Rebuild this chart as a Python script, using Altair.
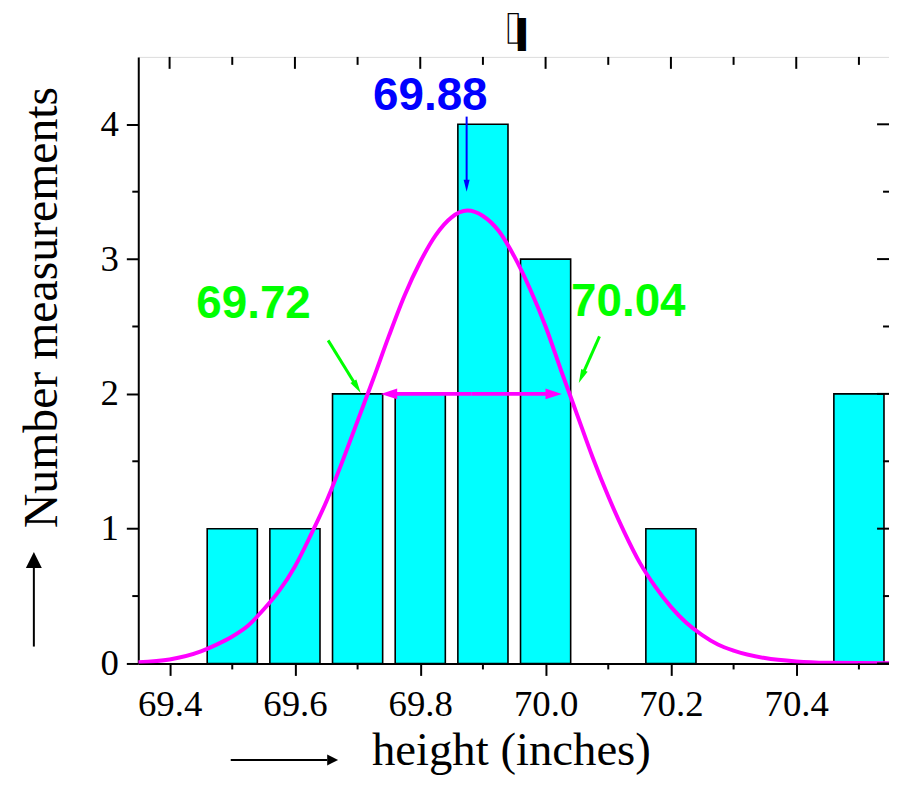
import math
import altair as alt
import pandas as pd

# ---------------- data ----------------
bar_centers = [69.5, 69.6, 69.7, 69.8, 69.9, 70.0, 70.2, 70.5]
bar_counts = [1, 1, 2, 2, 4, 3, 1, 2]
bar_width = 0.08

curve_x = [69.35, 69.40, 69.45, 69.475, 69.50, 69.525, 69.55, 69.575, 69.60,
           69.625, 69.65, 69.675, 69.70, 69.725, 69.75, 69.775, 69.80, 69.825,
           69.85, 69.875, 69.90, 69.925, 69.95, 69.975, 70.00, 70.025, 70.05,
           70.075, 70.10, 70.125, 70.15, 70.175, 70.20, 70.225, 70.25, 70.275,
           70.30, 70.35, 70.40, 70.45, 70.548]
curve_y = [0.01, 0.03, 0.09, 0.14, 0.20, 0.28, 0.40, 0.54, 0.72,
           0.95, 1.20, 1.49, 1.80, 2.11, 2.43, 2.73, 2.98, 3.18,
           3.31, 3.36, 3.32, 3.21, 3.02, 2.78, 2.50, 2.17, 1.85,
           1.53, 1.24, 0.98, 0.75, 0.57, 0.42, 0.30, 0.21, 0.14,
           0.095, 0.04, 0.015, 0.005, 0.001]

x_major = [69.4, 69.6, 69.8, 70.0, 70.2, 70.4]
x_minor = [69.5, 69.7, 69.9, 70.1, 70.3, 70.5]
y_major = [0, 1, 2, 3, 4]
y_minor = [0.5, 1.5, 2.5, 3.5]

mean_text = ["69.88"]
mean_pos = [69.816, 4.109]
low_text = ["69.72"]
low_pos = [69.534, 2.56]
high_text = ["70.04"]
high_pos = [70.132, 2.575]

# arrows (start, tip) in data units
blue_arrow = [(69.874, 4.057), (69.874, 3.50)]
green_left = [(69.653, 2.397), (69.705, 2.006)]
green_right = [(70.086, 2.427), (70.053, 2.080)]
fwhm_arrow = [69.737, 70.026, 2.0]

title_chars = ["▐", "▍"]
x_title = ["height (inches)"]
y_title = ["Number measurements"]

# ---------------- layout ----------------
W, H = 755, 610
XDOM = [69.35, 70.548]
YDOM = [0, 4.5]
PX = W / (XDOM[1] - XDOM[0])
PY = H / (YDOM[1] - YDOM[0])

xs = alt.Scale(domain=XDOM, nice=False, zero=False)
ys = alt.Scale(domain=YDOM, nice=False, zero=False)

SERIF = "Liberation Serif"
SANS = "Liberation Sans"

xaxis = alt.Axis(
    values=x_major, format=".1f", title=None, grid=False,
    tickSize=12, tickWidth=2, tickColor="black", domainColor="black",
    domainWidth=2, labelFont=SERIF, labelFontSize=37, labelColor="black",
    labelPadding=11, labelFlush=False, labelOverlap=False)
yaxis = alt.Axis(
    values=y_major, format="d", title=None, grid=False,
    tickSize=12, tickWidth=2, tickColor="black", domainColor="black",
    domainWidth=2, labelFont=SERIF, labelFontSize=37, labelColor="black",
    labelPadding=8, labelFlush=False, labelOverlap=False)


def X(f):
    return alt.X(f, scale=xs, axis=xaxis, title=None)


def Y(f):
    return alt.Y(f, scale=ys, axis=yaxis, title=None)


bars_df = pd.DataFrame({"c": bar_centers, "n": bar_counts})
bars = alt.Chart(bars_df).transform_calculate(
    x0=f"datum.c - {bar_width/2}", x1=f"datum.c + {bar_width/2}"
).mark_rect(color="#00ffff", stroke="#000000", strokeWidth=1.6).encode(
    x=X("x0:Q"), x2="x1:Q", y=Y("n:Q"), y2=alt.datum(0),
)

curve = alt.Chart(pd.DataFrame({"x": curve_x, "y": curve_y})).mark_line(
    color="#ff00ff", strokeWidth=4, interpolate="monotone", clip=True
).encode(x=X("x:Q"), y=Y("y:Q"))


# extra ticks (minor outside, mirrored inside)
def vticks(vals, y0, y1):
    return alt.Chart(pd.DataFrame({"v": vals})).mark_rule(color="black", strokeWidth=2).encode(
        x=X("v:Q"), y=alt.value(y0), y2=alt.value(y1))


def hticks(vals, x0, x1):
    return alt.Chart(pd.DataFrame({"v": vals})).mark_rule(color="black", strokeWidth=2).encode(
        y=Y("v:Q"), x=alt.value(x0), x2=alt.value(x1))


ticks = [
    vticks(x_minor, H, H + 6),
    vticks(x_major, 0, 12),
    vticks(x_minor, 0, 8),
    hticks(y_minor, 0, -6),
    hticks(y_major, W, W - 12),
    hticks(y_minor, W, W - 6),
]

# arrow helpers
HEAD_THIN = "M0,0L-0.5,2L0.5,2Z"
HEAD_WIDE = "M0,0L-1,3L1,3Z"


def arrow(start, tip, color, width, shape, size, back):
    dx = (tip[0] - start[0]) * PX
    dy = -(tip[1] - start[1]) * PY
    L = math.hypot(dx, dy)
    ang = (math.degrees(math.atan2(dx, -dy))) % 360
    ex = tip[0] - dx / L * back / PX
    ey = tip[1] + dy / L * back / PY
    line = alt.Chart(pd.DataFrame({"x": [start[0]], "y": [start[1]], "x2": [ex], "y2": [ey]})).mark_rule(
        color=color, strokeWidth=width).encode(
        x=X("x:Q"), y=Y("y:Q"), x2="x2:Q", y2="y2:Q")
    head = alt.Chart(pd.DataFrame({"x": [tip[0]], "y": [tip[1]]})).mark_point(
        shape=shape, size=size, filled=True, color=color, opacity=1, angle=ang, strokeWidth=0).encode(
        x=X("x:Q"), y=Y("y:Q"))
    return [line, head]


arrows = []
arrows += arrow(blue_arrow[0], blue_arrow[1], "#0000ff", 2, HEAD_THIN, 144, 8)
arrows += arrow(green_left[0], green_left[1], "#00ff00", 3, HEAD_THIN, 196, 9)
arrows += arrow(green_right[0], green_right[1], "#00ff00", 3, HEAD_THIN, 196, 9)
mid = (fwhm_arrow[0] + fwhm_arrow[1]) / 2
arrows += arrow((mid, fwhm_arrow[2]), (fwhm_arrow[0], fwhm_arrow[2]), "#ff00ff", 4, HEAD_WIDE, 121, 12)
arrows += arrow((mid, fwhm_arrow[2]), (fwhm_arrow[1], fwhm_arrow[2]), "#ff00ff", 4, HEAD_WIDE, 121, 12)


def label(txt, pos, color):
    return alt.Chart(pd.DataFrame({"t": txt, "x": [pos[0]], "y": [pos[1]]})).mark_text(
        font=SANS, fontWeight="bold", fontSize=46, color=color, align="center", baseline="alphabetic"
    ).encode(x=X("x:Q"), y=Y("y:Q"), text="t:N")


labels = [
    label(mean_text, mean_pos, "#0000ff"),
    label(low_text, low_pos, "#00ff00"),
    label(high_text, high_pos, "#00ff00"),
]

# axis titles with arrows (annotation)
one = pd.DataFrame({"a": [0]})
xt = alt.Chart(pd.DataFrame({"t": x_title})).mark_text(
    font=SERIF, fontSize=47, color="black", align="left", baseline="alphabetic"
).encode(x=alt.value(235), y=alt.value(712), text="t:N")
yt = alt.Chart(pd.DataFrame({"t": y_title})).mark_text(
    font=SERIF, fontSize=48, color="black", align="center", baseline="alphabetic", angle=270
).encode(x=alt.value(-82), y=alt.value(252), text="t:N")
xarr_line = alt.Chart(one).mark_rule(color="black", strokeWidth=2).encode(
    x=alt.value(93), x2=alt.value(190), y=alt.value(707))
xarr_head = alt.Chart(one).mark_point(shape="M0,0L-0.5,1L0.5,1Z", size=484, filled=True, color="black",
                                       opacity=1, angle=90, strokeWidth=0).encode(
    x=alt.value(201), y=alt.value(707))
yarr_line = alt.Chart(one).mark_rule(color="black", strokeWidth=2).encode(
    x=alt.value(-105), y=alt.value(593), y2=alt.value(510))
yarr_head = alt.Chart(one).mark_point(shape="M0,0L-0.5,1L0.5,1Z", size=1024, filled=True, color="black",
                                       opacity=1, angle=0, strokeWidth=0).encode(
    x=alt.value(-105), y=alt.value(498))

# title glyphs (outlined and filled bars)
t1 = alt.Chart(pd.DataFrame({"t": [title_chars[0]]})).mark_text(
    font="DejaVu Sans", fontSize=25, color="white", stroke="black", strokeWidth=1.3,
    align="right", baseline="alphabetic"
).encode(x=alt.value(382), y=alt.value(-20), text="t:N")
t2 = alt.Chart(pd.DataFrame({"t": [title_chars[1]]})).mark_text(
    font="DejaVu Sans", fontSize=28, color="black", align="left", baseline="alphabetic"
).encode(x=alt.value(382), y=alt.value(-13), text="t:N")

chart = alt.layer(
    bars, curve, *ticks, *arrows, *labels, xt, yt, xarr_line, xarr_head, yarr_line, yarr_head, t1, t2
).properties(
    width=W, height=H,
    autosize=alt.AutoSizeParams(type="none"),
    padding={"left": 131, "top": 47, "right": 0, "bottom": 112},
).configure_view(stroke="black", strokeWidth=2).configure(background="white")

chart.save("out.html", embed_options={"renderer": "svg", "actions": False})
